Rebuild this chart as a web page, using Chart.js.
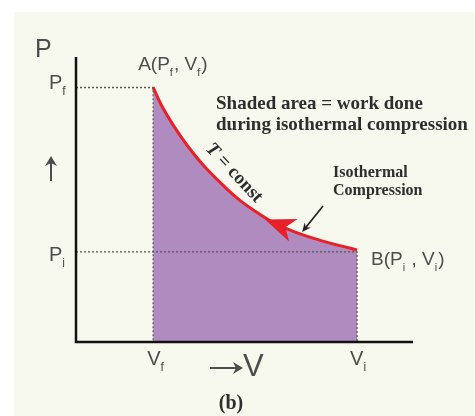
<!DOCTYPE html>
<html>
<head>
<meta charset="utf-8">
<script src="https://cdn.jsdelivr.net/npm/chart.js@4"></script>
<style>
html,body{margin:0;padding:0;background:#fff;}
#wrap{width:475px;height:416px;position:relative;}
</style>
</head>
<body>
<div id="wrap"><canvas id="c" width="475" height="416"></canvas></div>
<script>
// ---- data (arbitrary units, V: 0..100, P: 0..100) ----
const curveV = [22.9, 25.4, 28.9, 32.8, 37.8, 43.2, 48.0, 53.0, 58.0, 63.0, 68.0, 73.0, 78.0, 83.4];
const curveP = [89.3, 83.0, 76.0, 69.3, 62.0, 55.5, 50.3, 46.0, 42.3, 39.5, 37.3, 35.5, 33.9, 32.3];
const Vf = 22.9, Vi = 83.4, Pf = 89.3, Pi = 31.6;
const arrowTip = [56.1, 43.0];
const arrowTail = [64.5, 39.2];
const pointerFrom = [73.3, 47.7];
const pointerTo = [67.1, 38.6];
const tickLabelsV = [["V","f"],["V","i"]];
const tickLabelsP = [["P","f"],["P","i"]];

const curvePts = curveV.map((v,i)=>({x:v,y:curveP[i]}));

const overlay = {
  id:'overlay',
  beforeDraw(chart){
    const ctx = chart.ctx;
    ctx.save();
    ctx.fillStyle = '#ffffff';
    ctx.fillRect(0,0,chart.width,chart.height);
    ctx.fillStyle = '#f7f9ee';
    ctx.fillRect(14,12,chart.width-14,chart.height-12);
    ctx.restore();
  },
  afterDatasetsDraw(chart){
    const ctx = chart.ctx;
    const xs = chart.scales.x, ys = chart.scales.y;
    const px = v=>xs.getPixelForValue(v), py = v=>ys.getPixelForValue(v);
    ctx.save();
    // axes
    ctx.strokeStyle = '#111';
    ctx.lineWidth = 2.5;
    ctx.beginPath();
    ctx.moveTo(px(0), py(100));
    ctx.lineTo(px(0), py(0));
    ctx.lineTo(px(100), py(0));
    ctx.stroke();

    // red arrowhead
    const tx = px(arrowTip[0]), ty = py(arrowTip[1]);
    const bx = px(arrowTail[0]), by = py(arrowTail[1]);
    let dx = tx-bx, dy = ty-by; const L = Math.hypot(dx,dy); dx/=L; dy/=L;
    const nx = -dy, ny = dx, w = 12;
    ctx.fillStyle = '#e8202a';
    ctx.beginPath();
    ctx.moveTo(tx,ty);
    ctx.lineTo(bx+nx*w, by+ny*w);
    ctx.lineTo(tx-dx*L*0.72, ty-dy*L*0.72);
    ctx.lineTo(bx-nx*w, by-ny*w);
    ctx.closePath();
    ctx.fill();

    // black pointer arrow
    const ax = px(pointerFrom[0]), ay = py(pointerFrom[1]);
    const cx = px(pointerTo[0]), cy = py(pointerTo[1]);
    let ex = cx-ax, ey = cy-ay; const M = Math.hypot(ex,ey); ex/=M; ey/=M;
    ctx.strokeStyle = '#222'; ctx.lineWidth = 1.6;
    ctx.beginPath(); ctx.moveTo(ax,ay); ctx.lineTo(cx-ex*4,cy-ey*4); ctx.stroke();
    ctx.fillStyle = '#222';
    ctx.beginPath();
    ctx.moveTo(cx,cy);
    ctx.lineTo(cx-ex*9-ey*4, cy-ey*9+ex*4);
    ctx.lineTo(cx-ex*6, cy-ey*6);
    ctx.lineTo(cx-ex*9+ey*4, cy-ey*9-ex*4);
    ctx.closePath(); ctx.fill();

    // sans labels with subscripts
    const sans = 'Liberation Sans, Arial, sans-serif';
    function rich(parts, x, y, size, color){
      let cxp = x;
      ctx.fillStyle = color || '#4d4d4d';
      ctx.textBaseline = 'alphabetic';
      ctx.textAlign = 'left';
      for(const p of parts){
        if(p.sub){
          ctx.font = Math.round(size*0.6)+'px '+sans;
          ctx.fillText(p.t, cxp, y+size*0.3);
        } else {
          ctx.font = size+'px '+sans;
          ctx.fillText(p.t, cxp, y);
        }
        cxp += ctx.measureText(p.t).width + (p.sub?1:0);
      }
    }
    const lab = (a)=>[{t:a[0]},{t:a[1],sub:true}];
    rich([{t:'P'}], 35, 57, 25);
    rich(lab(tickLabelsP[0]), 49, 89, 20);
    rich(lab(tickLabelsP[1]), 49, 261, 20);
    rich(lab(tickLabelsV[0]), px(Vf)-6, 365, 20);
    rich(lab(tickLabelsV[1]), px(Vi)-7, 365, 20);
    rich([{t:'A(P'},{t:'f',sub:true},{t:', V'},{t:'f',sub:true},{t:')'}], px(Vf)-15, 70, 19);
    rich([{t:'B(P'},{t:'i',sub:true},{t:' , V'},{t:'i',sub:true},{t:')'}], px(Vi)+14, 265, 19);

    ctx.strokeStyle = '#4d4d4d';
    ctx.fillStyle = '#4d4d4d';
    ctx.lineWidth = 2;
    // up arrow
    ctx.beginPath(); ctx.moveTo(51, 181); ctx.lineTo(51, 162); ctx.stroke();
    ctx.beginPath(); ctx.moveTo(51, 156); ctx.lineTo(45, 166); ctx.lineTo(51, 163); ctx.lineTo(57, 166); ctx.closePath(); ctx.fill();
    // -> V
    ctx.beginPath(); ctx.moveTo(210, 368); ctx.lineTo(236, 368); ctx.stroke();
    ctx.beginPath(); ctx.moveTo(243, 368); ctx.lineTo(233, 362); ctx.lineTo(236, 368); ctx.lineTo(233, 374); ctx.closePath(); ctx.fill();
    ctx.font = '31px '+sans;
    ctx.textAlign = 'left';
    ctx.fillText('V', 243, 376);

    // serif bold texts
    const serif = 'Liberation Serif, Times New Roman, serif';
    ctx.fillStyle = '#2e2e2e';
    ctx.font = 'bold 19px '+serif;
    ctx.fillText('Shaded area = work done', 216, 109);
    ctx.fillText('during isothermal compression', 216, 130);
    ctx.font = 'bold 16px '+serif;
    ctx.fillText('Isothermal', 333, 177);
    ctx.fillText('Compression', 333, 195);
    ctx.font = 'bold 20px '+serif;
    ctx.textAlign = 'center';
    ctx.fillText('(b)', 231, 409);

    // T = const rotated along curve
    ctx.save();
    ctx.translate(234, 173);
    ctx.rotate(Math.PI*0.26);
    ctx.textBaseline = 'middle';
    ctx.font = 'italic bold 19px '+serif;
    const t1 = 'T', t2 = ' = const';
    const w1 = ctx.measureText(t1).width;
    ctx.font = 'bold 19px '+serif;
    const w2 = ctx.measureText(t2).width;
    const start = -(w1+w2)/2;
    ctx.textAlign = 'left';
    ctx.font = 'italic bold 19px '+serif;
    ctx.fillText(t1, start, 0);
    ctx.font = 'bold 19px '+serif;
    ctx.fillText(t2, start+w1, 0);
    ctx.restore();

    ctx.restore();
  }
};

new Chart(document.getElementById('c'), {
  type: 'scatter',
  data: {
    datasets: [
      {
        label:'isotherm',
        data: curvePts,
        showLine: true,
        borderColor: '#e8202a',
        borderWidth: 3,
        backgroundColor: '#b08bc0',
        fill: 'origin',
        pointRadius: 0,
        tension: 0.4,
        order: 1
      },
      {
        label:'guides1',
        data: [{x:0,y:Pf},{x:Vf,y:Pf},{x:Vf,y:0}],
        showLine: true, borderColor:'#555', borderWidth:1.3, borderDash:[2,2],
        pointRadius:0, fill:false, order:0
      },
      {
        label:'guides2',
        data: [{x:0,y:Pi},{x:Vi,y:Pi},{x:Vi,y:0}],
        showLine: true, borderColor:'#555', borderWidth:1.3, borderDash:[2,2],
        pointRadius:0, fill:false, order:0
      }
    ]
  },
  options: {
    responsive:false,
    animation:false,
    devicePixelRatio:1,
    layout:{padding:{left:76,right:62,top:57,bottom:74}},
    plugins:{legend:{display:false},tooltip:{enabled:false}},
    scales:{
      x:{type:'linear',min:0,max:100,display:false},
      y:{type:'linear',min:0,max:100,display:false}
    }
  },
  plugins:[overlay]
});
</script>
</body>
</html>
